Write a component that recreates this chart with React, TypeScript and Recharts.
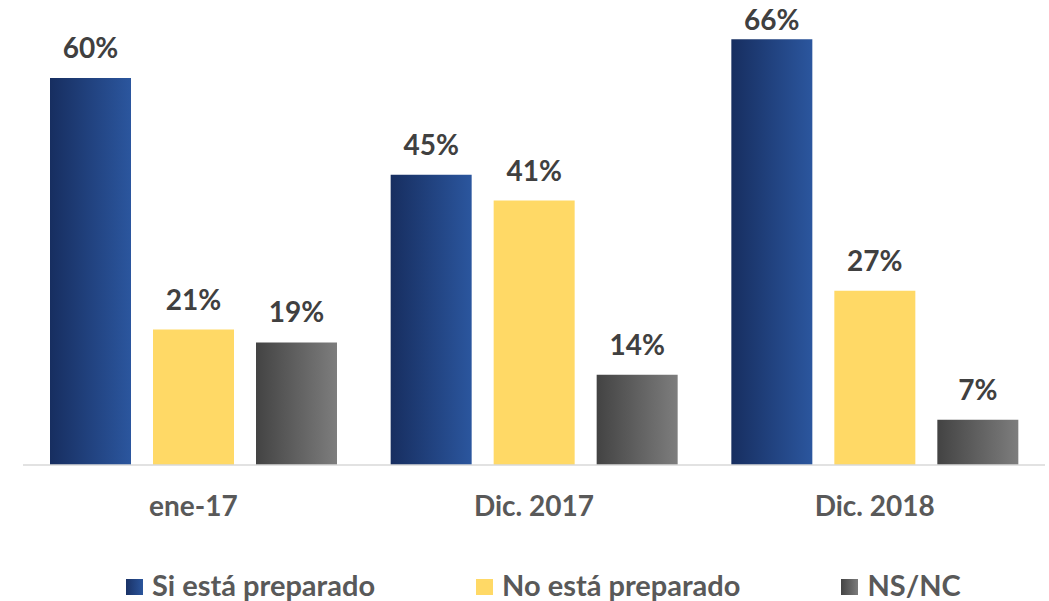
import React from 'react';
import { BarChart, Bar, XAxis, YAxis, LabelList } from 'recharts';

const categories = ['ene-17', 'Dic. 2017', 'Dic. 2018'];
const siPreparado = [60, 45, 66];
const noPreparado = [21, 41, 27];
const nsnc = [19, 14, 7];
const seriesNames = ['Si está preparado', 'No está preparado', 'NS/NC'];

const data = categories.map((c, i) => ({
  name: c,
  si: siPreparado[i],
  no: noPreparado[i],
  ns: nsnc[i],
}));

const FONT = 'Lato, "Open Sans", sans-serif';

const renderLabel = (props: any) => {
  const { x, y, width, value } = props;
  return (
    <text
      x={x + width / 2}
      y={Math.max(y - 20, 30)}
      textAnchor="middle"
      fontFamily={FONT}
      fontWeight={700}
      fontSize={28}
      fill="#404040"
    >
      {value}%
    </text>
  );
};

const renderTick = (props: any) => {
  const { x, payload } = props;
  return (
    <text
      x={x}
      y={516}
      textAnchor="middle"
      fontFamily={FONT}
      fontWeight={700}
      fontSize={28}
      fill="#595959"
    >
      {payload.value}
    </text>
  );
};

const swatches = ['url(#gBlue)', '#FFD966', 'url(#gGrey)'];
const swatchCss = [
  'linear-gradient(to right, #1a3266, #2b559c)',
  '#FFD966',
  'linear-gradient(to right, #444444, #7c7c7c)',
];

export default function App() {
  return (
    <div style={{ position: 'absolute', left: 0, top: 0, width: 1049, height: 601, background: '#fff', overflow: 'hidden' }}>
      <BarChart
        width={1049}
        height={601}
        data={data}
        margin={{ top: 13.5, right: 4, bottom: 76, left: 23 }}
        barCategoryGap={27}
        barGap={22}
      >
        <defs>
          <linearGradient id="gBlue" x1="0" y1="0" x2="1" y2="0">
            <stop offset="0%" stopColor="#172e60" />
            <stop offset="100%" stopColor="#2b569e" />
          </linearGradient>
          <linearGradient id="gGrey" x1="0" y1="0" x2="1" y2="0">
            <stop offset="0%" stopColor="#434343" />
            <stop offset="100%" stopColor="#7d7d7d" />
          </linearGradient>
        </defs>
        <XAxis
          dataKey="name"
          axisLine={{ stroke: '#d9d9d9', strokeWidth: 1.5 }}
          tickLine={false}
          tick={renderTick}
          interval={0}
          height={60}
        />
        <YAxis hide domain={[0, 70]} />
        <Bar dataKey="si" name={seriesNames[0]} fill={swatches[0]} isAnimationActive={false}>
          <LabelList dataKey="si" content={renderLabel} />
        </Bar>
        <Bar dataKey="no" name={seriesNames[1]} fill={swatches[1]} isAnimationActive={false}>
          <LabelList dataKey="no" content={renderLabel} />
        </Bar>
        <Bar dataKey="ns" name={seriesNames[2]} fill={swatches[2]} isAnimationActive={false}>
          <LabelList dataKey="ns" content={renderLabel} />
        </Bar>
      </BarChart>
      <div
        style={{
          position: 'absolute',
          left: 0,
          top: 568,
          width: 1049,
          display: 'flex',
          flexWrap: 'nowrap',
          alignItems: 'center',
          paddingLeft: 126,
          boxSizing: 'border-box',
          fontFamily: FONT,
          fontWeight: 700,
          fontSize: 29,
          color: '#595959',
          lineHeight: '34px',
          whiteSpace: 'nowrap',
        }}
      >
        {seriesNames.map((n, i) => (
          <div key={n} style={{ display: 'flex', alignItems: 'center', marginRight: 101, flexShrink: 0 }}>
            <span
              style={{
                display: 'inline-block',
                width: 17,
                height: 16,
                background: swatchCss[i],
                marginRight: 9,
                marginTop: 4,
                flexShrink: 0,
              }}
            />
            <span>{n}</span>
          </div>
        ))}
      </div>
    </div>
  );
}
